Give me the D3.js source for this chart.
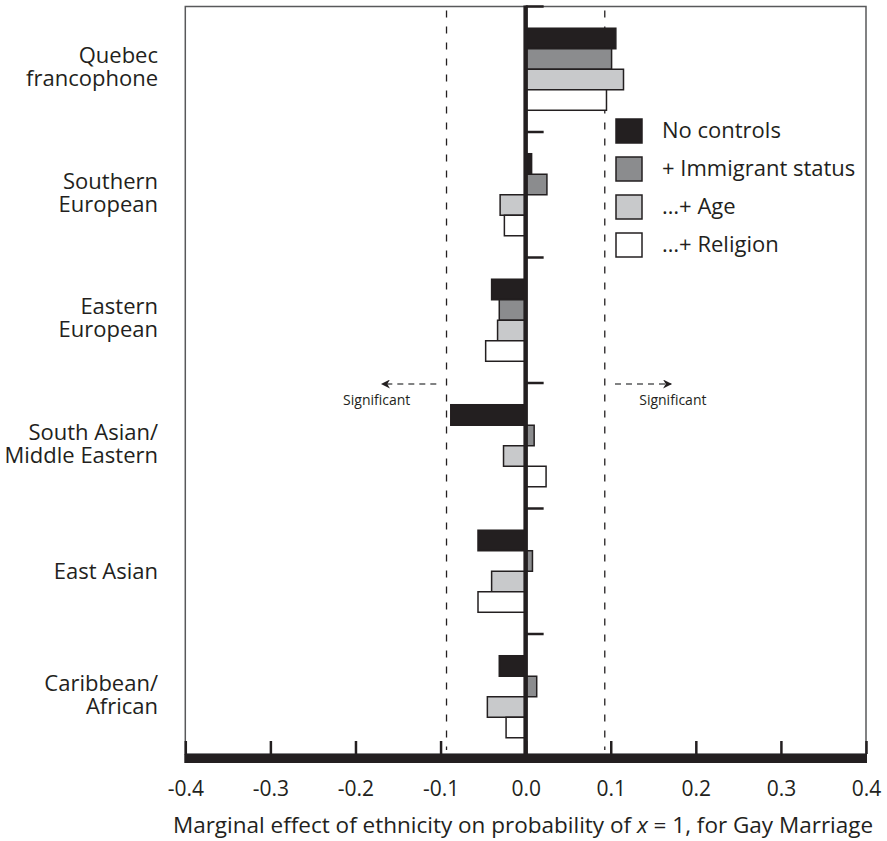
<!DOCTYPE html>
<html>
<head>
<meta charset="utf-8">
<script src="https://cdn.jsdelivr.net/npm/d3@7"></script>
<style>
  body { margin: 0; background: #fff; }
  svg { display: block; font-family: "Open Sans", sans-serif; }
  text { fill: #231f20; }
</style>
</head>
<body>
<svg width="887" height="841"></svg>
<script>
var categories = ["Quebec\nfrancophone", "Southern\nEuropean", "Eastern\nEuropean",
  "South Asian/\nMiddle Eastern", "East Asian", "Caribbean/\nAfrican"];

var keys = ["No controls", "+ Immigrant status", "\u2026+ Age", "\u2026+ Religion"];

var noControls = [0.106, 0.007, -0.040, -0.088, -0.056, -0.031];
var immigrant  = [0.101, 0.025, -0.031, 0.010, 0.008, 0.013];
var age        = [0.115, -0.030, -0.033, -0.026, -0.040, -0.045];
var religion   = [0.095, -0.025, -0.047, 0.024, -0.056, -0.023];

var xTicks = [-0.4, -0.3, -0.2, -0.1, 0, 0.1, 0.2, 0.3, 0.4];
var threshold = 0.093;

var colors = ["#231f20", "#8b8c8e", "#c8c9cb", "#ffffff"];

var values = [noControls, immigrant, age, religion];
var data = categories.map(function(c, i) {
  return {cat: c, vals: keys.map(function(k, j) { return {key: k, value: values[j][i]}; })};
});

var svg = d3.select("svg"),
    margin = {top: 6.5, right: 21, bottom: 87, left: 185};

var x = d3.scaleLinear()
    .domain([-0.4, 0.4])
    .range([185.3, 866]);

var axisY = 754;

var y = d3.scaleBand()
    .domain(categories)
    .range([margin.top, 759.5]);

var yInner = d3.scaleBand()
    .domain(keys)
    .range([0, y.bandwidth()])
    .paddingOuter(1.06);

// frame
svg.append("rect")
    .attr("x", x(-0.4))
    .attr("y", margin.top)
    .attr("width", x(0.4) - x(-0.4))
    .attr("height", axisY - margin.top)
    .attr("fill", "none")
    .attr("stroke", "#58595b")
    .attr("stroke-width", 1.5);

// significance lines
svg.append("g")
  .selectAll("line")
  .data([-threshold, threshold])
  .enter().append("line")
    .attr("x1", function(d) { return x(d); })
    .attr("x2", function(d) { return x(d); })
    .attr("y1", margin.top + 4)
    .attr("y2", axisY - 4)
    .attr("stroke", "#231f20")
    .attr("stroke-width", 1.3)
    .attr("stroke-dasharray", "7,9");

// bars
svg.append("g")
  .selectAll("g")
  .data(data)
  .enter().append("g")
    .attr("transform", function(d) { return "translate(0," + y(d.cat) + ")"; })
  .selectAll("rect")
  .data(function(d) { return d.vals; })
  .enter().append("rect")
    .attr("x", function(d) { return x(Math.min(0, d.value)); })
    .attr("y", function(d) { return yInner(d.key); })
    .attr("width", function(d) { return Math.abs(x(d.value) - x(0)); })
    .attr("height", yInner.bandwidth())
    .attr("fill", function(d) { return colors[keys.indexOf(d.key)]; })
    .attr("stroke", "#231f20")
    .attr("stroke-width", 1.5);

// zero line and category separators
svg.append("line")
    .attr("x1", x(0)).attr("x2", x(0))
    .attr("y1", margin.top - 1).attr("y2", axisY)
    .attr("stroke", "#231f20")
    .attr("stroke-width", 4.5);

svg.append("g")
  .selectAll("line")
  .data(categories)
  .enter().append("line")
    .attr("x1", x(0))
    .attr("x2", x(0) + 18)
    .attr("y1", function(d) { return y(d); })
    .attr("y2", function(d) { return y(d); })
    .attr("stroke", "#231f20")
    .attr("stroke-width", 2.5);

// category labels, one text per line
svg.append("g")
  .selectAll("g")
  .data(categories)
  .enter().append("g")
    .attr("transform", function(d) {
      var c = y(d) + y.bandwidth() / 2;
      return "translate(158," + (d.indexOf("\n") > 0 ? c - 6 : c + 8) + ")";
    })
  .selectAll("text")
  .data(function(d) { return d.split("\n"); })
  .enter().append("text")
    .attr("text-anchor", "end")
    .attr("font-size", 22)
    .attr("y", function(d, i) { return i * 23; })
    .text(function(d) { return d; });

// bottom axis
var xAxis = svg.append("g")
    .attr("transform", "translate(0," + axisY + ")")
    .call(d3.axisBottom(x)
      .tickValues(xTicks)
      .tickSize(-13)
      .tickPadding(27)
      .tickFormat(function(d) { return d.toFixed(1); }));

xAxis.select(".domain").remove();
xAxis.selectAll(".tick line")
    .attr("stroke", "#231f20")
    .attr("stroke-width", 2.5);
xAxis.selectAll(".tick text")
    .attr("font-size", 21)
    .attr("font-family", "Open Sans, sans-serif")
    .attr("fill", "#231f20");

svg.append("rect")
    .attr("x", x(-0.4) - 1)
    .attr("y", axisY)
    .attr("width", x(0.4) - x(-0.4) + 2)
    .attr("height", 9)
    .attr("fill", "#231f20");

var title = svg.append("text")
    .attr("x", 523)
    .attr("y", 833)
    .attr("text-anchor", "middle")
    .attr("font-size", 22.5);
title.append("tspan").text("Marginal effect of ethnicity on probability of ");
title.append("tspan").attr("font-style", "italic").text("x");
title.append("tspan").text(" = 1, for Gay Marriage");

// significance arrows
svg.append("defs").append("marker")
    .attr("id", "arrow")
    .attr("viewBox", "0 0 10 10")
    .attr("refX", 9).attr("refY", 5)
    .attr("markerWidth", 9).attr("markerHeight", 9)
    .attr("markerUnits", "userSpaceOnUse")
    .attr("orient", "auto")
  .append("path")
    .attr("d", "M0,0L10,5L0,10L3,5Z")
    .attr("fill", "#231f20");

var sig = [
  {from: -threshold - 0.012, to: -0.169, label: -0.175},
  {from: threshold + 0.012, to: 0.171, label: 0.173}
];

svg.append("g")
  .selectAll("line")
  .data(sig)
  .enter().append("line")
    .attr("x1", function(d) { return x(d.from); })
    .attr("x2", function(d) { return x(d.to); })
    .attr("y1", 384).attr("y2", 384)
    .attr("stroke", "#58595b")
    .attr("stroke-width", 1.5)
    .attr("stroke-dasharray", "6,5")
    .attr("marker-end", "url(#arrow)");

svg.append("g")
  .selectAll("text")
  .data(sig)
  .enter().append("text")
    .attr("x", function(d) { return x(d.label); })
    .attr("y", 405)
    .attr("text-anchor", "middle")
    .attr("font-size", 14)
    .text("Significant");

// legend
var legend = svg.append("g")
  .selectAll("g")
  .data(keys)
  .enter().append("g")
    .attr("transform", function(d, i) { return "translate(616," + (119 + i * 38) + ")"; });

legend.append("rect")
    .attr("width", 26)
    .attr("height", 24)
    .attr("fill", function(d, i) { return colors[i]; })
    .attr("stroke", "#231f20")
    .attr("stroke-width", 1.5);

legend.append("text")
    .attr("x", 46)
    .attr("y", 19)
    .attr("font-size", 22)
    .text(function(d) { return d; });
</script>
</body>
</html>
